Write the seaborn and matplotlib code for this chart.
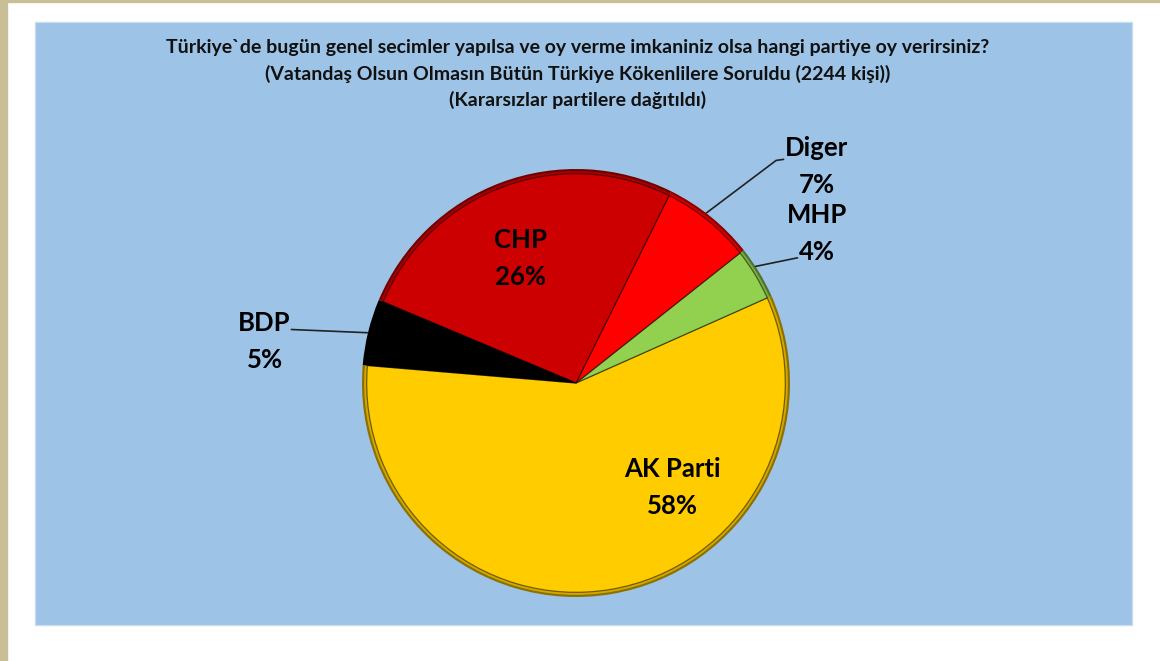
import seaborn as sns
import matplotlib.pyplot as plt
from matplotlib.patches import Rectangle
import matplotlib.colors as mcolors

# chart data (counter-clockwise order starting at the AK Parti / BDP boundary)
parties = ['AK Parti', 'MHP', 'Diger', 'CHP', 'BDP']
shares = [58, 4, 7, 26, 5]
colors = ['#FFCC00', '#92D050', '#FF0000', '#CC0000', '#000000']
title_lines = ["Türkiye`de bugün genel secimler yapılsa ve oy verme imkaniniz olsa hangi partiye oy verirsiniz?",
               "(Vatandaş Olsun Olmasın Bütün Türkiye Kökenlilere Soruldu (2244 kişi))",
               "(Kararsızlar partilere dağıtıldı)"]

sns.set_style('white')
plt.rcParams['font.family'] = ['Lato', 'DejaVu Sans']

W, H = 1160, 661
fig = plt.figure(figsize=(W / 100, H / 100), dpi=100)
fig.patch.set_facecolor('white')

# frame: beige border, blue plot area
fig.patches.append(Rectangle((0, 0), 7 / W, 1, transform=fig.transFigure, color='#C9BF97', zorder=-2))
fig.patches.append(Rectangle((0, 1 - 2 / H), 1, 2 / H, transform=fig.transFigure, color='#C9BF97', zorder=-2))
fig.patches.append(Rectangle((35 / W, (H - 625) / H), 1097 / W, 603 / H, transform=fig.transFigure,
                             facecolor='#9DC3E6', edgecolor='#C5DCF0', lw=1, zorder=-2))

# pie axes: centre (576, 383) px, radius 214 px
cx, cy, r = 576, 383, 214
ax = fig.add_axes([(cx - r) / W, (H - cy - r) / H, 2 * r / W, 2 * r / H])
ax.patch.set_alpha(0)
ax.axis('off')

def shade(c, f):
    rgb = mcolors.to_rgb(c)
    return tuple(v * f for v in rgb)

# bevel look: darker rim layers under the main slices
ax.pie(shares, colors=[shade(c, 0.55) for c in colors], radius=1.0, startangle=175.2,
       wedgeprops=dict(linewidth=0))
ax.pie(shares, colors=[shade(c, 0.82) for c in colors], radius=0.99, startangle=175.2,
       wedgeprops=dict(linewidth=0))
ax.pie(shares, colors=colors, radius=0.978, startangle=175.2,
       wedgeprops=dict(linewidth=0.9, edgecolor=(0, 0, 0, 0.5)))
ax.set_xlim(-1, 1)
ax.set_ylim(-1, 1)
ax.set_aspect('equal')

lbl = dict(fontsize=18.5, fontweight='bold', ha='center', va='center', color='black', linespacing=1.65)
label_pos = {'CHP': (-0.26, 0.58), 'AK Parti': (0.45, -0.49), 'BDP': (-1.455, 0.195),
             'Diger': (1.125, 1.01), 'MHP': (1.125, 0.70)}
for p, s in zip(parties, shares):
    x, y = label_pos[p]
    ax.text(x, y, f'{p}\n{s}%', clip_on=False, **lbl)

# leader lines
lc = dict(color='#222222', lw=1.2, clip_on=False)
ax.plot([-1.33, -0.975], [0.25, 0.235], **lc)
ax.plot([0.61, 0.935, 0.97], [0.795, 1.04, 1.045], **lc)
ax.plot([0.84, 1.035], [0.545, 0.585], **lc)

# title
for i, line in enumerate(title_lines):
    fig.text(578 / W, 1 - (47 + 26.5 * i) / H, line, ha='center', va='center',
             fontsize=14, fontweight='bold', color='#111111')

fig.savefig('out.png', dpi=100)
